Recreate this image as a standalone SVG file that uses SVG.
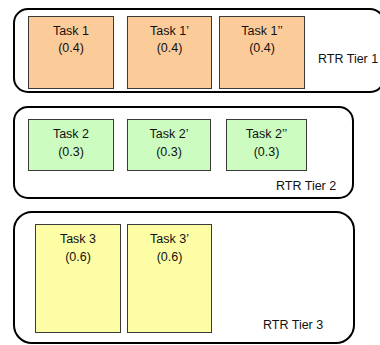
<svg xmlns="http://www.w3.org/2000/svg" width="380" height="345" viewBox="0 0 380 345">
  <style>
    .tier { fill: #ffffff; stroke: #000000; stroke-width: 2; }
    .task { stroke: #3a3a3a; stroke-width: 1; }
    .t1 { fill: #fccb9a; }
    .t2 { fill: #ccfcc0; }
    .t3 { fill: #fdfda6; }
    text { font-family: "Liberation Sans", Arial, sans-serif; font-size: 12.5px; fill: #111111; }
    .c { text-anchor: middle; }
  </style>

  <!-- Tier 1 -->
  <g id="tier1">
    <rect class="tier" x="14" y="9" width="370" height="83" rx="14"/>
    <text x="318" y="63">RTR Tier 1</text>
  </g>
  <g id="task1">
    <rect class="task t1" x="28.5" y="16.5" width="85" height="72"/>
    <text class="c" x="71" y="35">Task 1</text>
    <text class="c" x="71" y="52">(0.4)</text>
  </g>
  <g id="task1p">
    <rect class="task t1" x="127.5" y="16.5" width="84" height="72"/>
    <text class="c" x="169.5" y="35">Task 1’</text>
    <text class="c" x="169.5" y="52">(0.4)</text>
  </g>
  <g id="task1pp">
    <rect class="task t1" x="219.5" y="16.5" width="85" height="72"/>
    <text class="c" x="262" y="35">Task 1’’</text>
    <text class="c" x="262" y="52">(0.4)</text>
  </g>

  <!-- Tier 2 -->
  <g id="tier2">
    <rect class="tier" x="14" y="107" width="339" height="91" rx="14"/>
    <text x="276" y="190">RTR Tier 2</text>
  </g>
  <g id="task2">
    <rect class="task t2" x="28.5" y="119.5" width="85" height="51"/>
    <text class="c" x="71" y="138">Task 2</text>
    <text class="c" x="71" y="156">(0.3)</text>
  </g>
  <g id="task2p">
    <rect class="task t2" x="127.5" y="119.5" width="83" height="51"/>
    <text class="c" x="169" y="138">Task 2’</text>
    <text class="c" x="169" y="156">(0.3)</text>
  </g>
  <g id="task2pp">
    <rect class="task t2" x="226.5" y="119.5" width="80" height="51"/>
    <text class="c" x="266.5" y="138">Task 2’’</text>
    <text class="c" x="266.5" y="156">(0.3)</text>
  </g>

  <!-- Tier 3 -->
  <g id="tier3">
    <rect class="tier" x="14" y="212" width="340" height="131" rx="18"/>
    <text x="263" y="329">RTR Tier 3</text>
  </g>
  <g id="task3">
    <rect class="task t3" x="35.5" y="224.5" width="85" height="108"/>
    <text class="c" x="78" y="243">Task 3</text>
    <text class="c" x="78" y="261">(0.6)</text>
  </g>
  <g id="task3p">
    <rect class="task t3" x="127.5" y="224.5" width="84" height="108"/>
    <text class="c" x="169.5" y="243">Task 3’</text>
    <text class="c" x="169.5" y="261">(0.6)</text>
  </g>

  <g id="connectors"/>
</svg>
